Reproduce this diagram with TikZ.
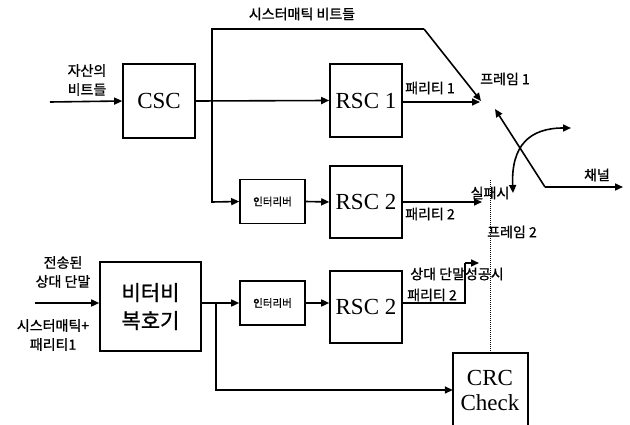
\documentclass[tikz,border=0pt]{standalone}
\usepackage{fontspec}
\setmainfont{Liberation Serif}
\newfontfamily\kr[FakeBold=1]{Noto Sans CJK KR}
\usetikzlibrary{arrows.meta}
\begin{document}
\begin{tikzpicture}[x=1pt,y=-1pt,
  blk/.style={draw,line width=1.6pt,rectangle,inner sep=0pt,font=\fontsize{23}{25}\selectfont},
  ilv/.style={draw,line width=1.6pt,rectangle,inner sep=0pt,minimum width=65pt,minimum height=44pt,font=\kr\fontsize{10.5}{12}\selectfont},
  lbl/.style={inner sep=0pt,font=\kr\fontsize{14}{19}\selectfont,align=center},
  wire/.style={line width=1.6pt},
  arr/.style={line width=1.6pt,-{Triangle[length=8pt,width=7pt]}},
  darr/.style={line width=1.6pt,{Triangle[length=8pt,width=7pt]}-{Triangle[length=8pt,width=7pt]}}]
\clip (0,0) rectangle (630,425);
\useasboundingbox (0,0) rectangle (630,425);
\fill[white] (0,0) rectangle (630,425);
% blocks
\node[blk,minimum width=72pt,minimum height=74pt] (csc) at (159,101) {CSC};
\node[blk,minimum width=72pt,minimum height=73pt] (rsc1) at (366,100.5) {RSC 1};
\node[ilv] (il1) at (272.5,201.5) {인터리버};
\node[blk,minimum width=72pt,minimum height=72pt] (rsc2a) at (366,202) {RSC 2};
\node[blk,minimum width=101pt,minimum height=89pt,font=\kr\fontsize{21}{28}\selectfont,align=center] (vit) at (150.5,306.5) {비터비\\복호기};
\node[ilv] (il2) at (272.5,303) {인터리버};
\node[blk,minimum width=72pt,minimum height=72pt] (rsc2b) at (366,307) {RSC 2};
\node[inner sep=0pt,minimum width=75pt,minimum height=80pt] (crc) at (490.5,393) {};
\node[inner sep=0pt,font=\fontsize{23}{25}\selectfont,align=center] (crct) at (490,390) {CRC\\Check};
\draw[wire] (crc.south west) -- (crc.north west) -- (crc.north east) -- (crc.south east);
% coordinates
\coordinate (in1) at (50,102);
\coordinate (j1) at (212,102);
\coordinate (t1) at (212,29);
\coordinate (t2) at (424,29);
\coordinate (f1) at (481,101);
\coordinate (p1) at (480,102);
\coordinate (j2) at (212,202);
\coordinate (p2) at (482,202);
\coordinate (in2) at (35,303);
\coordinate (j3) at (216,303);
\coordinate (j4) at (216,390);
\coordinate (b1) at (465,303);
\coordinate (b2) at (465,263);
\coordinate (b3) at (479,263);
\coordinate (d1) at (490,180);
\coordinate (sw) at (545,187);
\coordinate (sw1) at (495,109);
\coordinate (ch) at (623,187);
\coordinate (c1) at (513,193);
\coordinate (c2) at (571,128);
% connectors
\draw[arr] (in1) -- (csc.west);
\draw[arr] (csc.east) -- (rsc1.west);
\draw[wire] (j1) -- (t1) -- (t2);
\draw[arr] (t2) -- (f1);
\draw[arr] (j1) -- (j2) -- (il1.west);
\draw[arr] (il1.east) -- (rsc2a.west);
\draw[arr] (rsc1.east |- p1) -- (p1);
\draw[arr] (rsc2a.east) -- (p2);
\draw[arr] (in2) -- (vit.west |- in2);
\draw[arr] (vit.east |- in2) -- (il2.west);
\draw[arr] (il2.east) -- (rsc2b.west |- il2.east);
\draw[arr] (j3) -- (j4) -- (crc.west |- j4);
\draw[wire] (rsc2b.east |- b1) -- (b1) -- (b2);
\draw[arr] (b2) -- (b3);
\draw[line width=1pt,densely dotted] (d1) -- (crc.north -| d1);
\draw[arr] (sw) -- (sw1);
\draw[arr] (sw) -- (ch);
\draw[darr] (c1) .. controls (511,145) and (530,128) .. (c2);
% labels
\node[lbl] (lsys) at (302,14) {시스터매틱 비트들};
\node[lbl] (lin1) at (87,80) {자산의\\비트들};
\node[lbl] (lp1) at (430,88) {패리티 1};
\node[lbl] (lf1) at (505,79) {프레임 1};
\node[lbl] (lp2) at (430,214) {패리티 2};
\node[lbl] (lfail) at (490,193) {실패시};
\node[lbl] (lf2) at (512,232) {프레임 2};
\node[lbl] (lsucc) at (457,274) {상대 단말성공시};
\node[lbl] (lp2b) at (432,295) {패리티 2};
\node[lbl] (lch) at (597,175) {채널};
\node[lbl] (lin2) at (63,272) {전송된\\상대 단말};
\node[lbl] (lin3) at (53,335) {시스터매틱+\\패리티1};
\end{tikzpicture}
\end{document}
